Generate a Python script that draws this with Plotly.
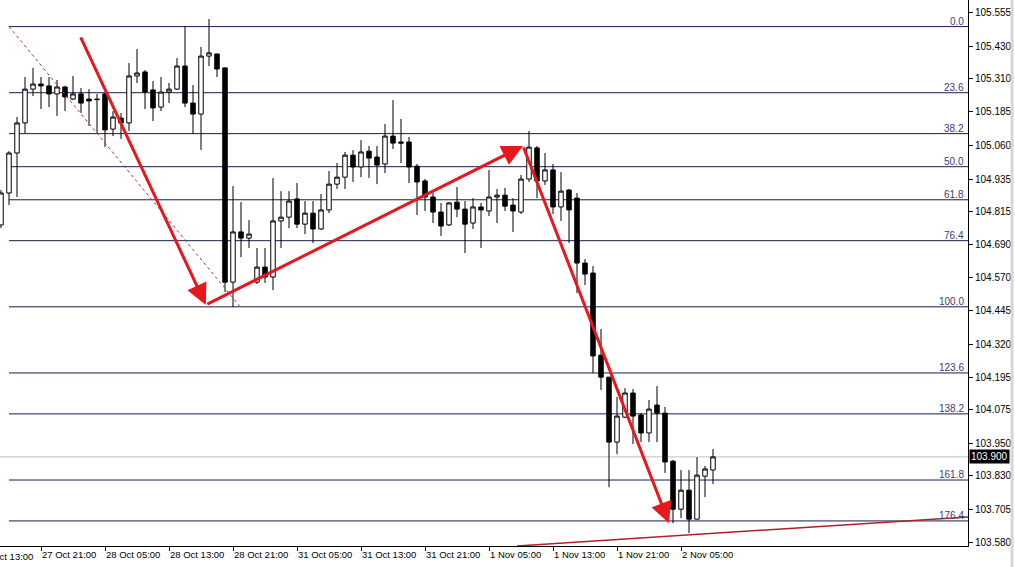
import plotly.graph_objects as go

# ---- candle data (H1 bars, index 0 = 27 Oct 16:00) ----
opens = [104.764, 104.883, 105.032, 105.144, 105.270, 105.289, 105.282, 105.252, 105.278, 105.233,
         105.252, 105.233, 105.233, 105.252, 105.121, 105.162, 105.144, 105.319, 105.334, 105.267,
         105.203, 105.259, 105.270, 105.356, 105.218, 105.177, 105.393, 105.401, 105.349, 104.551,
         104.738, 104.715, 104.551, 104.607, 104.570, 104.779, 104.793, 104.861, 104.767, 104.808,
         104.749, 104.820, 104.916, 104.942, 105.024, 104.980, 105.039, 105.017, 104.991, 105.095,
         105.073, 105.073, 104.983, 104.928, 104.868, 104.812, 104.764, 104.849, 104.823, 104.771,
         104.831, 104.816, 104.868, 104.875, 104.838, 104.812, 104.935, 105.051, 104.928, 104.969,
         104.831, 104.894, 104.864, 104.622, 104.585, 104.279, 104.197, 103.955, 104.048, 104.138,
         104.056, 103.989, 104.093, 104.063, 103.884, 103.705, 103.776, 103.668, 103.828, 103.851]
highs = [104.894, 105.039, 105.166, 105.315, 105.349, 105.315, 105.315, 105.304, 105.282, 105.319,
         105.274, 105.270, 105.252, 105.255, 105.188, 105.181, 105.367, 105.419, 105.341, 105.300,
         105.315, 105.293, 105.386, 105.505, 105.285, 105.427, 105.531, 105.401, 105.352, 104.909,
         104.849, 104.782, 104.678, 104.678, 104.939, 104.890, 104.890, 104.920, 104.853, 104.853,
         104.879, 104.965, 104.995, 105.036, 105.043, 105.080, 105.058, 105.058, 105.140, 105.229,
         105.159, 105.092, 104.991, 104.935, 104.883, 104.846, 104.849, 104.905, 104.853, 104.864,
         104.846, 104.969, 104.898, 104.902, 104.864, 104.950, 105.114, 105.058, 105.032, 104.991,
         104.961, 104.898, 104.883, 104.637, 104.611, 104.376, 104.197, 104.123, 104.156, 104.153,
         104.063, 104.112, 104.164, 104.086, 103.888, 103.851, 103.851, 103.899, 103.866, 103.929]
lows = [104.752, 104.838, 104.868, 105.106, 105.244, 105.196, 105.203, 105.170, 105.188, 105.229,
        105.181, 105.133, 105.106, 105.054, 105.095, 105.084, 105.114, 105.293, 105.196, 105.151,
        105.188, 105.218, 105.267, 105.203, 105.103, 105.043, 105.356, 105.315, 104.514, 104.458,
        104.644, 104.678, 104.544, 104.548, 104.521, 104.678, 104.752, 104.752, 104.730, 104.697,
        104.745, 104.808, 104.898, 104.898, 104.924, 104.942, 104.939, 104.916, 104.957, 105.047,
        104.995, 104.920, 104.801, 104.816, 104.771, 104.723, 104.760, 104.793, 104.659, 104.749,
        104.678, 104.797, 104.771, 104.816, 104.738, 104.805, 104.924, 104.864, 104.913, 104.805,
        104.779, 104.697, 104.510, 104.540, 104.212, 104.149, 103.787, 103.910, 104.045, 103.948,
        103.955, 103.955, 103.955, 103.840, 103.653, 103.672, 103.616, 103.668, 103.750, 103.799]
closes = [104.883, 105.032, 105.144, 105.270, 105.289, 105.282, 105.252, 105.278, 105.241, 105.252,
          105.218, 105.226, 105.231, 105.118, 105.166, 105.144, 105.319, 105.330, 105.259, 105.200,
          105.259, 105.270, 105.356, 105.218, 105.177, 105.393, 105.405, 105.345, 104.551, 104.738,
          104.715, 104.730, 104.607, 104.570, 104.779, 104.793, 104.853, 104.767, 104.808, 104.749,
          104.820, 104.916, 104.942, 105.024, 104.980, 105.036, 105.013, 104.987, 105.095, 105.069,
          105.069, 104.980, 104.924, 104.868, 104.812, 104.760, 104.846, 104.823, 104.767, 104.831,
          104.820, 104.868, 104.875, 104.834, 104.816, 104.935, 105.054, 104.928, 104.969, 104.831,
          104.890, 104.820, 104.622, 104.581, 104.276, 104.197, 103.955, 104.052, 104.138, 104.052,
          103.989, 104.078, 104.063, 103.881, 103.705, 103.776, 103.668, 103.832, 103.855, 103.900]
bar_index = list(range(len(opens)))

# ---- axes ----
x_tick_pos = [5, 13, 21, 29, 37, 45, 53, 61, 69, 77, 85]
x_tick_text = ["27 Oct 21:00", "28 Oct 05:00", "28 Oct 13:00", "28 Oct 21:00", "31 Oct 05:00",
               "31 Oct 13:00", "31 Oct 21:00", "1 Nov 05:00", "1 Nov 13:00", "1 Nov 21:00", "2 Nov 05:00"]
x_cut_tick_pos = -3
x_cut_tick_text = "27 Oct 13:00"
y_tick_text = ["105.555", "105.430", "105.310", "105.185", "105.060", "104.935", "104.815", "104.690",
               "104.570", "104.445", "104.320", "104.195", "104.075", "103.950", "103.830", "103.705", "103.580"]
y_tick_vals = [float(t) for t in y_tick_text]
x_range = [-0.125, 120.875]
y_range = [103.568, 105.602]

# ---- Fibonacci retracement ----
fib_start_bar, fib_end_bar = 1, 29.9
fib_high, fib_low = 105.503, 104.459
fib_levels = [0.0, 23.6, 38.2, 50.0, 61.8, 76.4, 100.0, 123.6, 138.2, 161.8, 176.4]

# ---- drawn arrows (bar index, price) ----
arrow_x = [9.875, 25.6, 65.25, 83.5]
arrow_y = [105.468, 104.466, 105.058, 103.653]

# ---- bottom trend line ----
trend_x = [64.5, 120.875]
trend_y = [103.568, 103.676]

last_price = 103.900

FONT = "Liberation Sans"
NAVY = "#1b1b4d"
RED = "#e8171c"

fig = go.Figure()
fig.add_trace(go.Candlestick(
    x=bar_index, open=opens, high=highs, low=lows, close=closes,
    increasing=dict(line=dict(color="black", width=1), fillcolor="white"),
    decreasing=dict(line=dict(color="black", width=1), fillcolor="black"),
    whiskerwidth=0, showlegend=False, hoverinfo="skip"))

shapes = []
annotations = []
# current price line
shapes.append(dict(type="line", xref="x", yref="y", x0=x_range[0], x1=x_range[1],
                   y0=last_price, y1=last_price, line=dict(color="#c0c0c0", width=1), layer="below"))
# fib levels
for lv in fib_levels:
    p = fib_high - (fib_high - fib_low) * lv / 100.0
    shapes.append(dict(type="line", xref="x", yref="y", x0=fib_start_bar, x1=x_range[1],
                       y0=p, y1=p, line=dict(color=NAVY, width=1), layer="below"))
    annotations.append(dict(xref="paper", yref="y", x=0.998, y=p, text=f"{lv:.1f}",
                            showarrow=False, xanchor="right", yanchor="bottom", yshift=-2,
                            font=dict(family=FONT, size=10, color="#3a3a7a")))

# fib diagonal dotted line
fig.add_trace(go.Scatter(x=[fib_start_bar, fib_end_bar], y=[fib_high, fib_low], mode="lines",
                         line=dict(color="#c0303a", width=1, dash="dot"), showlegend=False,
                         hoverinfo="skip"))
# bottom trend line
fig.add_trace(go.Scatter(x=trend_x, y=trend_y, mode="lines",
                         line=dict(color="#b0202a", width=1.5), showlegend=False, hoverinfo="skip"))

# red arrows
for i in range(len(arrow_x) - 1):
    annotations.append(dict(x=arrow_x[i + 1], y=arrow_y[i + 1], ax=arrow_x[i], ay=arrow_y[i],
                            xref="x", yref="y", axref="x", ayref="y", text="", showarrow=True,
                            arrowhead=2, arrowsize=1.4, arrowwidth=3, arrowcolor=RED,
                            standoff=0, startstandoff=0))

# cut-off first x label (its tick lies left of the visible window)
plot_w_px = 968.0
cut_px = (x_cut_tick_pos - x_range[0]) / (x_range[1] - x_range[0]) * plot_w_px
annotations.append(dict(xref="paper", yref="paper", x=cut_px / plot_w_px, y=0, text=x_cut_tick_text,
                        showarrow=False, xanchor="left", yanchor="top", xshift=0, yshift=-3,
                        font=dict(family=FONT, size=9.5, color="black")))
# last price tag
annotations.append(dict(xref="paper", yref="y", x=1.0, y=last_price, text=str(f"{last_price:.3f}"),
                        showarrow=False, xanchor="left", yanchor="middle", xshift=1,
                        bgcolor="black", borderpad=1,
                        font=dict(family=FONT, size=10, color="white")))

# window border strip on the right
shapes.append(dict(type="line", xref="paper", yref="paper", x0=1.0455, x1=1.0455, y0=-0.04, y1=1.0,
                   line=dict(color="#d6d6d6", width=3)))

fig.update_layout(
    width=1015, height=567,
    margin=dict(l=0, r=47, t=0, b=21),
    paper_bgcolor="white", plot_bgcolor="white",
    boxgap=0.2,
    shapes=shapes, annotations=annotations,
    showlegend=False,
    xaxis=dict(range=x_range, tickmode="array", tickvals=x_tick_pos, ticktext=x_tick_text,
               ticks="outside", ticklen=4, tickcolor="black", showgrid=False, zeroline=False,
               showline=True, linecolor="black", linewidth=1, ticklabelposition="outside right",
               tickangle=0, tickfont=dict(family=FONT, size=9.5, color="black"),
               rangeslider=dict(visible=False)),
    yaxis=dict(range=y_range, side="right", tickmode="array", tickvals=y_tick_vals,
               ticktext=y_tick_text, ticks="outside", ticklen=4, tickcolor="black",
               showgrid=False, zeroline=False, showline=True, linecolor="black", linewidth=1,
               tickfont=dict(family=FONT, size=10, color="black")),
)

fig.write_html("out.html", config={"displayModeBar": False},
               post_script="document.body.style.margin='0px';document.body.style.overflow='hidden';")
